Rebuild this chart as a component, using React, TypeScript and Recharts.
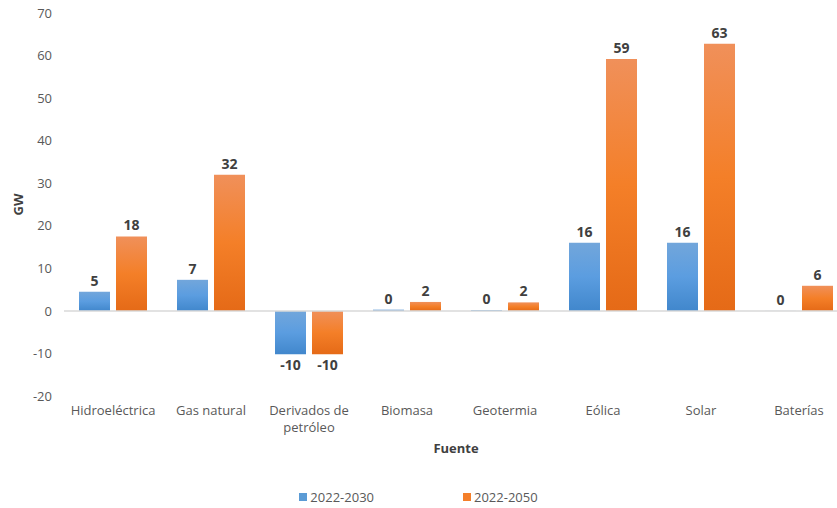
import React from 'react';
import { BarChart, Bar, XAxis, YAxis, LabelList, ReferenceLine, Legend, Text } from 'recharts';

const categories = ['Hidroeléctrica', 'Gas natural', 'Derivados de petróleo', 'Biomasa', 'Geotermia', 'Eólica', 'Solar', 'Baterías'];
const values2030 = [4.5, 7.3, -10.2, 0.3, 0.2, 16, 16, 0.02];
const values2050 = [17.5, 32, -10.2, 2.1, 2, 59.2, 62.8, 5.9];
const yTicks = [-20, -10, 0, 10, 20, 30, 40, 50, 60, 70];
const seriesNames = ['2022-2030', '2022-2050'];

const FONT = '"Open Sans", Lato, sans-serif';
const BLUE = '#5b9bd5';
const ORANGE = '#f47f2a';

const data = categories.map((name, i) => ({ name, a: values2030[i], b: values2050[i] }));

const CategoryTick = ({ x, y, payload }: any) => (
  <Text
    x={x}
    y={y}
    width={100}
    textAnchor="middle"
    verticalAnchor="start"
    lineHeight={17}
    fill="#595959"
    fontSize={13}
    fontFamily={FONT}
  >
    {payload.value}
  </Text>
);

const GwLabel = ({ viewBox }: any) => {
  const cx = 18;
  const cy = viewBox.y + viewBox.height / 2;
  return (
    <text
      x={cx}
      y={cy}
      transform={`rotate(-90, ${cx}, ${cy})`}
      textAnchor="middle"
      dominantBaseline="central"
      fontFamily={FONT}
      fontSize={13}
      fontWeight={700}
      fill="#404040"
    >
      GW
    </text>
  );
};

const LegendContent = () => (
  <div style={{ width: 837, display: 'flex', justifyContent: 'center', gap: 89, fontFamily: FONT, fontSize: 13, color: '#595959' }}>
    {seriesNames.map((n, i) => (
      <div key={n} style={{ display: 'flex', alignItems: 'center' }}>
        <span style={{ width: 8, height: 8, background: i === 0 ? BLUE : ORANGE, marginRight: 3, display: 'inline-block' }} />
        {n}
      </div>
    ))}
  </div>
);

const labelStyle = { fill: '#404040', fontSize: 14, fontWeight: 700, fontFamily: FONT };

export default function App() {
  return (
    <div style={{ position: 'absolute', left: 0, top: 0, width: 837, height: 508, overflow: 'hidden', background: '#fff' }}>
      <BarChart
        width={860}
        height={508}
        data={data}
        margin={{ top: 13, right: 12, left: 0, bottom: 32 }}
        barSize={31}
        barGap={6}
      >
        <defs>
          <linearGradient id="gBlue" x1="0" y1="0" x2="0" y2="1">
            <stop offset="0%" stopColor="#72a6db" />
            <stop offset="50%" stopColor="#5b9de0" />
            <stop offset="100%" stopColor="#4187cc" />
          </linearGradient>
          <linearGradient id="gOrange" x1="0" y1="0" x2="0" y2="1">
            <stop offset="0%" stopColor="#f0905a" />
            <stop offset="50%" stopColor="#f47f28" />
            <stop offset="100%" stopColor="#e56a17" />
          </linearGradient>
        </defs>
        <XAxis
          dataKey="name"
          axisLine={false}
          tickLine={false}
          interval={0}
          height={60}
          tickMargin={4}
          tick={<CategoryTick />}
          label={{ value: 'Fuente', position: 'insideBottom', offset: 3, fill: '#404040', fontSize: 13, fontWeight: 700, fontFamily: FONT }}
        />
        <YAxis
          width={64}
          domain={[-20, 70]}
          ticks={yTicks}
          axisLine={false}
          tickLine={false}
          tickMargin={6}
          tick={{ fill: '#595959', fontSize: 13, fontFamily: FONT }}
          label={<GwLabel />}
        />
        <ReferenceLine y={0} stroke="#d9d9d9" strokeWidth={1.5} />
        <Legend verticalAlign="bottom" content={<LegendContent />} wrapperStyle={{ left: 0, bottom: 0, width: 837, height: 20 }} />
        <Bar dataKey="a" name={seriesNames[0]} fill="url(#gBlue)" isAnimationActive={false}>
          <LabelList dataKey="a" position="top" offset={6} formatter={(v: any) => Math.round(v)} style={labelStyle} />
        </Bar>
        <Bar dataKey="b" name={seriesNames[1]} fill="url(#gOrange)" isAnimationActive={false}>
          <LabelList dataKey="b" position="top" offset={6} formatter={(v: any) => Math.round(v)} style={labelStyle} />
        </Bar>
      </BarChart>
    </div>
  );
}
